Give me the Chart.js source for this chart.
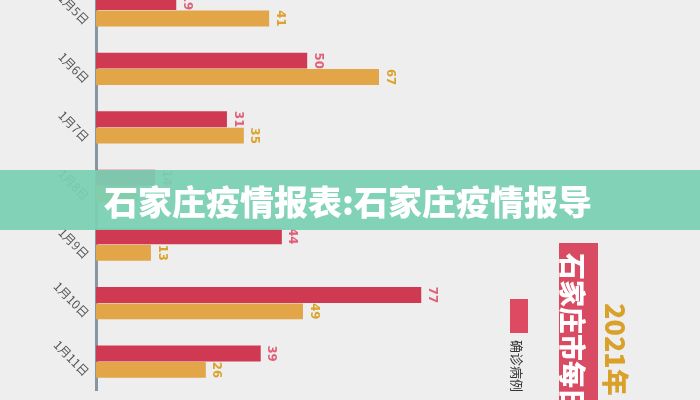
<!DOCTYPE html>
<html lang="zh">
<head>
<meta charset="utf-8">
<script src="https://cdn.jsdelivr.net/npm/chart.js@4/dist/chart.umd.min.js"></script>
<style>
    html, body { margin: 0; padding: 0; }
    body {
        width: 700px; height: 400px; overflow: hidden; position: relative;
        background: #eeeeee;
        font-family: "Noto Sans CJK SC", "Noto Sans", sans-serif;
    }
    #wrap { position: absolute; left: 0; top: -19px; width: 700px; height: 410px; }
    .banner {
        position: absolute; left: 0; top: 170px; width: 700px; height: 60px;
        background: rgba(122, 208, 180, 0.93);
    }
    .banner span {
        position: absolute; left: 104px; top: 6px;
        color: #fff; font-size: 34px; font-weight: 900;
    }
    .rot { position: absolute; transform-origin: 0 0; transform: rotate(90deg); white-space: nowrap; }
    .legend-box { position: absolute; left: 510px; top: 299px; width: 18px; height: 34px; background: #dd4a62; }
    .title-box { position: absolute; left: 559px; top: 243px; width: 39px; height: 200px; background: #d94a63; }
</style>
</head>
<body>
<div id="wrap"><canvas id="chart"></canvas></div>

<div class="legend-box"></div>
<div class="rot" style="left:527px; top:340px; font-size:13px; color:#333;">确诊病例</div>
<div class="title-box"></div>
<div class="rot" style="left:593px; top:253px; font-size:27px; font-weight:900; color:#fff;">石家庄市每日新增</div>
<div class="rot" style="left:636px; top:303px; font-size:27px; font-weight:900; color:#d9a02a;">2021年</div>

<div class="banner"><span>石家庄疫情报表:石家庄疫情报导</span></div>

<script>
// data
const dates = ['1月5日', '1月6日', '1月7日', '1月8日', '1月9日', '1月10日', '1月11日'];
const confirmedCases = [19, 50, 31, 14, 44, 77, 39];
const otherCases = [41, 67, 35, 10, 13, 49, 26];

const RED = '#cf3a52';
const ORANGE = '#e2a547';

/** numbers at the end of each bar, turned a quarter clockwise */
const valueLabels = {
    id: 'valueLabels',
    afterDatasetsDraw(chart) {
        const ctx = chart.ctx;
        const colors = ['#e0607a', '#dba22c'];
        chart.data.datasets.forEach((ds, i) => {
            chart.getDatasetMeta(i).data.forEach((bar, j) => {
                ctx.save();
                ctx.translate(bar.x + 11, bar.y);
                ctx.rotate(Math.PI / 2);
                ctx.fillStyle = colors[i];
                ctx.font = 'bold 13px "DejaVu Sans Condensed", sans-serif';
                ctx.textAlign = 'center';
                ctx.textBaseline = 'middle';
                ctx.fillText(ds.data[j], 0, 0);
                ctx.restore();
            });
        });
    }
};

/** slanted date labels left of the axis */
const dateLabels = {
    id: 'dateLabels',
    afterDraw(chart) {
        const ctx = chart.ctx;
        const yScale = chart.scales.y;
        dates.forEach((d, i) => {
            const y = yScale.getPixelForTick(i);
            ctx.save();
            ctx.translate(chart.chartArea.left - 9, y + 12);
            ctx.rotate(Math.PI / 4);
            ctx.fillStyle = '#555';
            ctx.font = '12px "Noto Sans CJK SC", sans-serif';
            ctx.textAlign = 'right';
            ctx.textBaseline = 'middle';
            ctx.fillText(d, 0, 0);
            ctx.restore();
        });
    }
};

new Chart(document.getElementById('chart'), {
    type: 'bar',
    data: {
        labels: dates,
        datasets: [
            { label: '确诊病例', data: confirmedCases, backgroundColor: RED },
            { label: '无症状感染者', data: otherCases, backgroundColor: ORANGE },
        ],
    },
    options: {
        indexAxis: 'y',
        responsive: true,
        maintainAspectRatio: false,
        animation: false,
        categoryPercentage: 0.56,
        barPercentage: 0.97,
        layout: { padding: { left: 96, right: 0, top: 0, bottom: 0 } },
        plugins: {
            legend: { display: false },
            tooltip: { enabled: false },
        },
        scales: {
            x: { display: false, min: 0, max: 143 },
            y: {
                grid: { display: false, drawTicks: false },
                border: { display: true, color: '#8896a2', width: 3 },
                ticks: { display: false },
            },
        },
    },
    plugins: [valueLabels, dateLabels],
});
</script>
</body>
</html>
